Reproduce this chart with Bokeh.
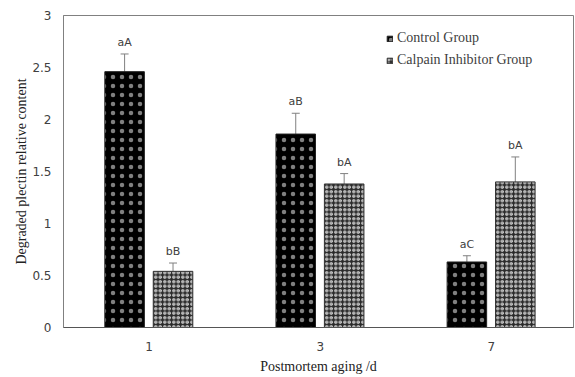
from bokeh.plotting import figure
from bokeh.models import (ColumnDataSource, Whisker, TeeHead, Legend, LegendItem,
                          FixedTicker, Range1d)
from bokeh.transform import dodge
from bokeh.core.properties import value
from bokeh.embed import file_html
from bokeh.resources import INLINE

days = ["1", "3", "7"]
control = [2.46, 1.86, 0.63]
control_err = [0.17, 0.20, 0.06]
inhibitor = [0.54, 1.38, 1.40]
inhibitor_err = [0.08, 0.10, 0.24]
control_labels = ["aA", "aB", "aC"]
inhibitor_labels = ["bB", "bA", "bA"]
y_ticks = [0, 0.5, 1, 1.5, 2, 2.5, 3]

pos = [i + 0.5 for i in range(len(days))]

src = ColumnDataSource(dict(
    pos=pos,
    control=control,
    c_up=[v + e for v, e in zip(control, control_err)],
    c_lo=[v - e for v, e in zip(control, control_err)],
    c_lab=control_labels,
    inhibitor=inhibitor,
    i_up=[v + e for v, e in zip(inhibitor, inhibitor_err)],
    i_lo=[v - e for v, e in zip(inhibitor, inhibitor_err)],
    i_lab=inhibitor_labels,
))

p = figure(x_range=Range1d(0, 2.98), y_range=Range1d(0, 3),
           width=575, height=376, output_backend="svg", toolbar_location=None,
           min_border_left=63, min_border_right=2, min_border_top=15, min_border_bottom=45)

OFF_C, OFF_I, W = -0.143, 0.14, 0.231
xc = dodge("pos", OFF_C)
xi = dodge("pos", OFF_I)

r1 = p.vbar(x=xc, top="control", width=W, source=src, fill_color="black",
            line_color="#222222", hatch_pattern="dot", hatch_color="white",
            hatch_alpha=0.5, hatch_scale=9)
r2 = p.vbar(x=xi, top="inhibitor", width=W, source=src, fill_color="#2a2a2a",
            line_color="#333333", hatch_pattern="ring", hatch_color="white",
            hatch_scale=4.5, hatch_weight=1)

for base, up, lo in [(xc, "c_up", "c_lo"), (xi, "i_up", "i_lo")]:
    w = Whisker(base=base, upper=up, lower=lo, source=src, line_color="#808080",
                upper_head=TeeHead(size=8, line_color="#808080"),
                lower_head=TeeHead(size=8, line_color="#808080"))
    p.add_layout(w)

for xx, yy, tt in [(xc, "c_up", "c_lab"), (xi, "i_up", "i_lab")]:
    p.text(x=xx, y=yy, text=tt, source=src, text_align="center", text_baseline="bottom",
           y_offset=-5, text_font=value("DejaVu Sans"), text_font_size="11px",
           text_color="#404040")

p.xgrid.visible = False
p.ygrid.visible = False
p.outline_line_color = "#808080"

p.xaxis.ticker = FixedTicker(ticks=pos)
p.xaxis.major_label_overrides = {x: d for x, d in zip(pos, days)}
p.yaxis.ticker = FixedTicker(ticks=y_ticks)
p.yaxis.major_label_overrides = {0: "0", 1: "1", 2: "2", 3: "3"}
for ax in (p.xaxis[0], p.yaxis[0]):
    ax.major_tick_line_color = None
    ax.minor_tick_line_color = None
    ax.major_label_text_font = "DejaVu Sans"
    ax.major_label_text_font_size = "12px"
    ax.major_label_text_color = "#404040"
    ax.axis_label_text_font = "Liberation Serif"
    ax.axis_label_text_font_size = "14px"
    ax.axis_label_text_font_style = "normal"
    ax.axis_label_text_color = "#222222"
p.xaxis.axis_line_color = "#555555"
p.yaxis.axis_line_color = "#808080"
p.xaxis.major_label_standoff = 8
p.yaxis.major_label_standoff = 6
p.xaxis.axis_label_standoff = 5
p.yaxis.axis_label_standoff = 0
p.xaxis.axis_label = "Postmortem aging /d"
p.yaxis.axis_label = "Degraded plectin relative content"

legend = Legend(items=[LegendItem(label="Control Group", renderers=[r1]),
                       LegendItem(label="Calpain Inhibitor Group", renderers=[r2])],
                location=(323, 257), glyph_width=7, glyph_height=7, label_standoff=4,
                spacing=2, padding=0, margin=0, label_height=20,
                border_line_color=None, background_fill_alpha=0,
                label_text_font="Liberation Serif", label_text_font_size="14px",
                label_text_color="#404040")
p.add_layout(legend)

open("out.html", "w").write(file_html(p, INLINE))
